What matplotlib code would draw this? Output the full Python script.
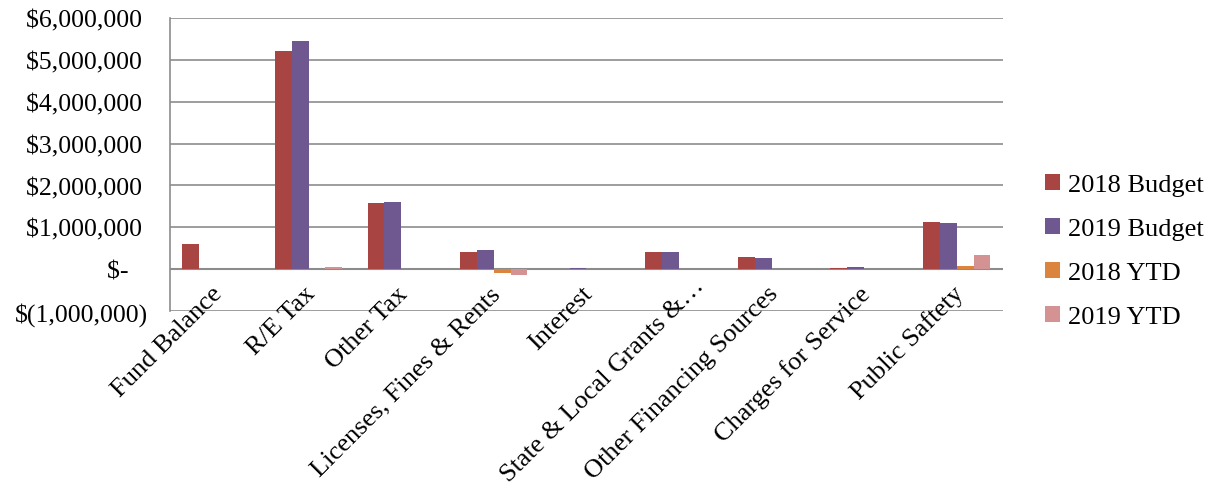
import matplotlib
matplotlib.use("Agg")
import matplotlib.pyplot as plt
import matplotlib.transforms as mtransforms
import numpy as np
from matplotlib.ticker import FuncFormatter

categories = ["Fund Balance", "R/E Tax", "Other Tax", "Licenses, Fines & Rents", "Interest",
              "State & Local Grants &\u2026", "Other Financing Sources", "Charges for Service",
              "Public Saftety"]
budget_2018 = [600000, 5210000, 1580000, 410000, 15000, 420000, 280000, 20000, 1120000]
budget_2019 = [0, 5450000, 1600000, 450000, 25000, 420000, 260000, 50000, 1100000]
ytd_2018 = [0, 0, 10000, -90000, 0, 0, 0, 0, 70000]
ytd_2019 = [0, 40000, 10000, -140000, 0, 0, 0, 0, 330000]
series_names = ["2018 Budget", "2019 Budget", "2018 YTD", "2019 YTD"]
colors = ["#A84543", "#6F5890", "#DB843D", "#D49392"]

plt.rcParams['font.family'] = ['Liberation Serif', 'DejaVu Serif']
fig = plt.figure(figsize=(12.12, 4.89), dpi=100)
ax = fig.add_axes([0.140, 0.362, 0.6876, 0.599])

x = np.arange(len(categories))
w = 1 / 5.5
data = [budget_2018, budget_2019, ytd_2018, ytd_2019]
for i, (vals, c, n) in enumerate(zip(data, colors, series_names)):
    ax.bar(x + (i - 1.5) * w, vals, w, color=c, label=n, zorder=3)

ax.set_xlim(-0.5, len(categories) - 0.5)
ax.set_ylim(-1000000, 6000000)
ax.set_yticks(np.arange(-1000000, 6000001, 1000000))

def fmt(v, pos):
    if abs(v) < 1:
        return "$-   "
    if v < 0:
        return "$({:,.0f})".format(-v)
    return "${:,.0f} ".format(v)

ax.yaxis.set_major_formatter(FuncFormatter(fmt))
ax.grid(axis='y', color='#8c8c8c', linewidth=1.2, zorder=0)
ax.axhline(0, color='#8c8c8c', linewidth=1.5, zorder=2)
for s in ['top', 'right', 'bottom']:
    ax.spines[s].set_visible(False)
ax.spines['left'].set_color('#8c8c8c')
ax.spines['left'].set_linewidth(1.2)
ax.tick_params(axis='both', length=0, labelsize=18.5, colors='black')
ax.tick_params(axis='y', pad=15.5)
ax.set_xticks(x)
ax.set_xticklabels([])

base = ax.get_xaxis_transform()
for xi, lab in zip(x, categories):
    if lab.endswith("\u2026"):
        dx, dy = 22, 29
    else:
        dx, dy = 3, 21
    off = mtransforms.ScaledTranslation(dx / 100, dy / 100, fig.dpi_scale_trans)
    ax.text(xi, 0, lab, transform=base + off, rotation=45, ha='right', va='center',
            rotation_mode='anchor', fontsize=19, clip_on=False)

ax.legend(loc='center left', bbox_to_anchor=(1.038, 0.204), frameon=False, fontsize=19,
          handlelength=0.55, handleheight=0.55, handletextpad=0.3, labelspacing=0.82,
          borderaxespad=0)

fig.savefig("out.png", dpi=100)
